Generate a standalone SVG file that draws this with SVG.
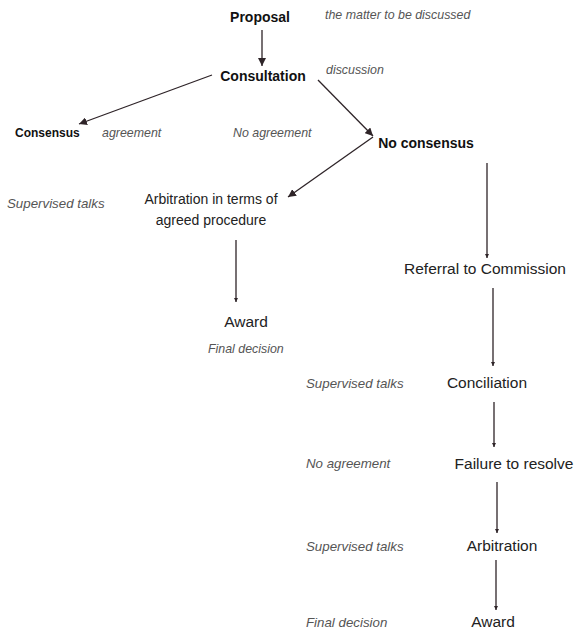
<svg xmlns="http://www.w3.org/2000/svg" width="578" height="630" viewBox="0 0 578 630">
<defs>
<marker id="ah" viewBox="0 0 10 10" refX="10" refY="5" markerWidth="8" markerHeight="8" markerUnits="userSpaceOnUse" orient="auto">
<path d="M0,0 L10,5 L0,10 Z" fill="#2e2428"/>
</marker>
<marker id="tip" viewBox="0 0 10 10" refX="10" refY="5" markerWidth="7" markerHeight="4" markerUnits="userSpaceOnUse" orient="auto">
<path d="M0,0 L10,5 L0,10 Z" fill="#2e2428"/>
</marker>
<style>
.b{font-family:"Liberation Sans",Arial,sans-serif;font-weight:bold;fill:#111}
.r{font-family:"Liberation Sans",Arial,sans-serif;font-size:14px;fill:#222}
.rr{font-family:"Liberation Sans",Arial,sans-serif;font-size:15.5px;fill:#222}
.i{font-family:"Liberation Sans",Arial,sans-serif;font-style:italic;font-size:12.4px;fill:#555}
.ib{font-family:"Liberation Sans",Arial,sans-serif;font-style:italic;font-size:13.3px;fill:#555}
.c{stroke:#2e2428;stroke-width:1.3;fill:none}
</style>
</defs>
<rect width="578" height="630" fill="#fff"/>
<g id="connectors">
<line class="c" x1="262" y1="30" x2="262" y2="66" marker-end="url(#ah)"/>
<line class="c" x1="212" y1="75" x2="79" y2="124" marker-end="url(#ah)"/>
<line class="c" x1="318" y1="80" x2="373" y2="136" marker-end="url(#ah)"/>
<line class="c" x1="373" y1="137" x2="288" y2="197" marker-end="url(#ah)"/>
<line class="c" x1="487" y1="163" x2="487" y2="258" marker-end="url(#tip)"/>
<line class="c" x1="236" y1="240" x2="236" y2="302" marker-end="url(#tip)"/>
<line class="c" x1="493" y1="288" x2="493" y2="366" marker-end="url(#tip)"/>
<line class="c" x1="494" y1="402" x2="494" y2="447" stroke-width="1.8" marker-end="url(#tip)"/>
<line class="c" x1="497" y1="482" x2="497" y2="533" marker-end="url(#tip)"/>
<line class="c" x1="496" y1="560" x2="496" y2="610" marker-end="url(#tip)"/>
</g>
<g id="proposal"><text class="b" x="260" y="22" font-size="14" text-anchor="middle">Proposal</text></g>
<text class="i" x="325" y="19">the matter to be discussed</text>
<g id="consultation"><text class="b" x="263" y="81" font-size="14" text-anchor="middle">Consultation</text></g>
<text class="i" x="326" y="74">discussion</text>
<g id="consensus"><text class="b" x="15" y="137" font-size="12">Consensus</text></g>
<text class="i" x="102" y="137">agreement</text>
<text class="i" x="233" y="137">No agreement</text>
<g id="no-consensus"><text class="b" x="426" y="148" font-size="14" text-anchor="middle">No consensus</text></g>
<g id="arbitration-agreed"><text class="r" x="211" y="204" text-anchor="middle">Arbitration in terms of</text><text class="r" x="211" y="225" text-anchor="middle">agreed procedure</text></g>
<text class="ib" x="7" y="208" font-size="13">Supervised talks</text>
<g id="referral"><text class="rr" x="485" y="274" text-anchor="middle">Referral to Commission</text></g>
<g id="award1"><text class="rr" x="246" y="327" text-anchor="middle" font-size="15">Award</text></g>
<text class="i" x="208" y="353">Final decision</text>
<g id="conciliation"><text class="rr" x="487" y="388" text-anchor="middle">Conciliation</text></g>
<text class="ib" x="306" y="388">Supervised talks</text>
<g id="failure"><text class="rr" x="514" y="469" text-anchor="middle">Failure to resolve</text></g>
<text class="ib" x="306" y="468">No agreement</text>
<g id="arbitration"><text class="rr" x="502" y="551" text-anchor="middle">Arbitration</text></g>
<text class="ib" x="306" y="551">Supervised talks</text>
<g id="award2"><text class="rr" x="493" y="627" text-anchor="middle">Award</text></g>
<text class="ib" x="306" y="627">Final decision</text>
</svg>
